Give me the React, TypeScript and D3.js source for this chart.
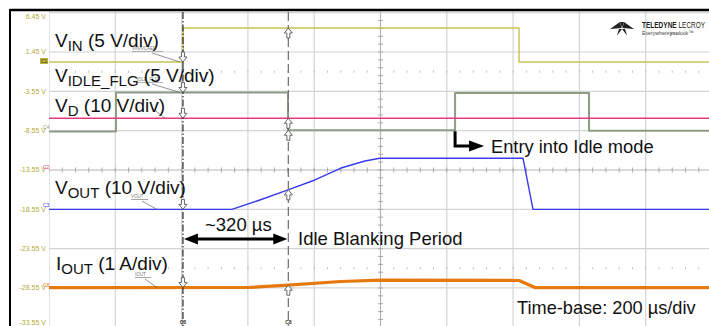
import React from 'react';
import * as d3 from 'd3';

const W = 709;
const H = 326;

// time axis: 200 µs/div, 10 divisions
const timeDomain = [0, 2000];
const gridTimes = d3.range(0, 2001, 200);
// left scale labels, 5 V/div on screen
const yTicks = [6.45, 1.45, -3.55, -8.55, -13.55, -18.55, -23.55, -28.55, -33.55];

// traces (µs, screen volts)
const vinT = [0, 405, 405, 1418, 1418, 2000];
const vinV = [0.18, 0.18, 4.5, 4.5, 0.18, 0.18];
const idleT = [0, 202, 202, 721, 721, 1225, 1225, 1629, 1629, 2000];
const idleV = [-8.65, -8.65, -3.7, -3.7, -8.5, -8.5, -3.75, -3.75, -8.55, -8.55];
const vdT = [0, 2000];
const vdV = [-6.98, -6.98];
const voutT = [0, 552, 636, 721, 802, 881, 953, 998, 1430, 1460, 2000];
const voutV = [-18.56, -18.56, -17.37, -16.09, -14.82, -13.3, -12.41, -12.06, -12.06, -18.56, -18.56];
const ioutT = [0, 600, 721, 880, 1000, 1418, 1466, 2000];
const ioutV = [-28.51, -28.49, -28.2, -27.73, -27.54, -27.6, -28.5, -28.51];

const cursorT = [404, 722];
const idleEntryT = 1225;

const FONT = '"Liberation Sans", Arial, sans-serif';

const traces = [
  { t: vinT, v: vinV, color: '#c9c352', w: 1.4 },
  { t: idleT, v: idleV, color: '#8d9c85', w: 2 },
  { t: vdT, v: vdV, color: '#e63a80', w: 1.6 },
  { t: voutT, v: voutV, color: '#3a3af0', w: 1.4 },
  { t: ioutT, v: ioutV, color: '#e5790f', w: 3.2 },
];

function valueAt(ts: number[], vs: number[], t: number) {
  for (let i = 0; i < ts.length - 1; i++) {
    if (t >= ts[i] && t <= ts[i + 1]) {
      const span = ts[i + 1] - ts[i];
      return span === 0 ? vs[i + 1] : vs[i] + ((vs[i + 1] - vs[i]) * (t - ts[i])) / span;
    }
  }
  return vs[vs.length - 1];
}

function Label({ x, y, main, sub, rest }: { x: number; y: number; main: string; sub: string; rest: string }) {
  return (
    <text x={x} y={y} fontFamily={FONT} fontSize={19} fill="#111">
      <tspan>{main}</tspan>
      <tspan dy={4} fontSize={15}>{sub}</tspan>
      <tspan dy={-4}>{rest}</tspan>
    </text>
  );
}

export default function App() {
  const x = d3.scaleLinear().domain(timeDomain).range([49, 712]);
  const y = d3.scaleLinear().domain([-33.55, 6.45]).range([327.3, 12.67]);
  const line = d3.line<[number, number]>().x(d => x(d[0])).y(d => y(d[1]));

  const centerT = 1000;
  const centerV = -13.55;
  const minorT = d3.range(0, 2001, 40);
  const minorV = d3.range(-33, 7, 1).map(v => v - 0.55);
  const dotRows = [centerV + 12.5, centerV - 12.5];

  const c1 = x(cursorT[0]);
  const c2 = x(cursorT[1]);
  const downArrow = 'M0,0 L-4,-5 L-1.5,-5 L-1.5,-10 L1.5,-10 L1.5,-5 L4,-5 Z';
  const upArrow = 'M0,0 L-4,5 L-1.5,5 L-1.5,10 L1.5,10 L1.5,5 L4,5 Z';

  const ex = x(idleEntryT);

  return (
    <svg width={W} height={H} style={{ position: 'absolute', left: 0, top: 0, background: '#fff' }}>
      <defs>
        <clipPath id="plot">
          <rect x={49} y={11} width={W - 49} height={H - 11} />
        </clipPath>
      </defs>

      {/* grid */}
      <g clipPath="url(#plot)">
        {gridTimes.map(t => (
          <line key={'gx' + t} x1={x(t)} x2={x(t)} y1={11} y2={H} stroke={t === centerT ? '#b4b4b4' : '#d4d4d4'} strokeWidth={1.2} />
        ))}
        {yTicks.map(v => (
          <line key={'gy' + v} x1={49} x2={W} y1={y(v)} y2={y(v)} stroke={v === centerV ? '#b4b4b4' : '#d4d4d4'} strokeWidth={1.2} />
        ))}
        {minorV.map(v => (
          <line key={'mv' + v} x1={x(centerT) - 2.5} x2={x(centerT) + 2.5} y1={y(v)} y2={y(v)} stroke="#aaa" strokeWidth={1} />
        ))}
        {minorT.map(t => (
          <line key={'mt' + t} x1={x(t)} x2={x(t)} y1={y(centerV) - 2.5} y2={y(centerV) + 2.5} stroke="#aaa" strokeWidth={1} />
        ))}
        {dotRows.map(v =>
          minorT.map(t => (
            <rect key={'d' + v + t} x={x(t) - 0.5} y={y(v) - 1} width={1} height={2} fill="#bbb" />
          ))
        )}
      </g>

      {/* y labels */}
      {yTicks.map(v => (
        <text key={'yl' + v} x={46} y={Math.min(Math.max(y(v), 17), 323)} dy="0.35em" textAnchor="end" fontFamily={FONT} fontSize={7} fill="#b3ab3c">
          {v.toFixed(2)} V
        </text>
      ))}
      {/* channel markers */}
      <rect x={40} y={y(0.18) - 4} width={8} height={6} fill="#bdb437" />
      <text x={41} y={y(0.18) + 1} fontFamily={FONT} fontSize={5} fill="#333">C1</text>
      <text x={43} y={y(-8.55) - 2} fontFamily={FONT} fontSize={5} fill="#8d9c85">C4</text>
      <text x={43} y={y(-13.55) - 1} fontFamily={FONT} fontSize={5} fill="#e63a80">C2</text>
      <text x={43} y={y(-18.55) - 2} fontFamily={FONT} fontSize={5} fill="#3a3af0">C3</text>
      <text x={43} y={y(-28.55) - 1} fontFamily={FONT} fontSize={5} fill="#e5790f">C8</text>

      {/* traces */}
      <g clipPath="url(#plot)" fill="none">
        {traces.map((tr, i) => (
          <path key={'tr' + i} d={line(tr.t.map((t, j) => [t, tr.v[j]] as [number, number])) || ''} stroke={tr.color} strokeWidth={tr.w} strokeLinejoin="round" />
        ))}
      </g>

      {/* small trace tags */}
      <g fontFamily={FONT} fontSize={4.5} fill="#777" stroke="none">
        <text x={132} y={50}>VIN/VCAEN</text>
        <line x1={132} x2={163} y1={51.5} y2={51.5} stroke="#888" strokeWidth={0.6} />
        <line x1={152} x2={180} y1={53} y2={y(0.18)} stroke="#666" strokeWidth={0.7} />
        <text x={137} y={81}>IDLE_FLG</text>
        <line x1={137} x2={163} y1={82.5} y2={82.5} stroke="#888" strokeWidth={0.6} />
        <line x1={152} x2={180} y1={84} y2={y(-3.7)} stroke="#666" strokeWidth={0.7} />
        <line x1={152} x2={165} y1={108} y2={y(-6.98)} stroke="#666" strokeWidth={0.7} />
        <text x={131} y={198}>VOUT</text>
        <line x1={131} x2={148} y1={199.5} y2={199.5} stroke="#666" strokeWidth={0.6} />
        <line x1={142} x2={157} y1={201} y2={y(-18.56)} stroke="#666" strokeWidth={0.7} />
        <text x={135} y={276}>IOUT</text>
        <line x1={135} x2={151} y1={277.5} y2={277.5} stroke="#666" strokeWidth={0.6} />
        <line x1={145} x2={157} y1={279} y2={y(-28.51)} stroke="#666" strokeWidth={0.7} />
      </g>

      {/* cursors */}
      <line x1={c1} x2={c1} y1={12} y2={H} stroke="#222" strokeWidth={1.2} strokeDasharray="7,2,1.5,2" />
      <line x1={c2} x2={c2} y1={12} y2={H} stroke="#777" strokeWidth={1.3} strokeDasharray="9,4" />
      {traces.map((tr, i) => (
        <path key={'m1' + i} transform={`translate(${c1},${y(valueAt(tr.t, tr.v, cursorT[0]))})`} d={downArrow} fill="#fff" stroke="#555" strokeWidth={0.9} />
      ))}
      {traces.map((tr, i) => (
        <path key={'m2' + i} transform={`translate(${c2},${y(valueAt(tr.t, tr.v, cursorT[1]))})`} d={upArrow} fill="#fff" stroke="#555" strokeWidth={0.9} />
      ))}
      <text x={c1} y={324} textAnchor="middle" fontFamily={FONT} fontSize={5} fontWeight="bold" fill="#333">C8</text>
      <text x={c2} y={324} textAnchor="middle" fontFamily={FONT} fontSize={5} fontWeight="bold" fill="#333">C8</text>

      {/* labels */}
      <Label x={55} y={47} main="V" sub="IN" rest=" (5 V/div)" />
      <Label x={55} y={82} main="V" sub="IDLE_FLG" rest=" (5 V/div)" />
      <Label x={55} y={112} main="V" sub="D" rest=" (10 V/div)" />
      <Label x={55} y={194} main="V" sub="OUT" rest=" (10 V/div)" />
      <Label x={56} y={270} main="I" sub="OUT" rest=" (1 A/div)" />

      {/* ~320 µs span */}
      <g stroke="#000" fill="#000">
        <line x1={c1 + 12} x2={c2 - 12} y1={239} y2={239} strokeWidth={3} />
        <path d={`M${c1 + 1},239 L${c1 + 15},233.5 L${c1 + 15},244.5 Z`} stroke="none" />
        <path d={`M${c2 - 1},239 L${c2 - 15},233.5 L${c2 - 15},244.5 Z`} stroke="none" />
      </g>
      <text x={205} y={231} fontFamily={FONT} fontSize={18.5} fill="#111">~320 µs</text>
      <text x={298} y={245} fontFamily={FONT} fontSize={18.5} fill="#111">Idle Blanking Period</text>

      {/* entry into idle */}
      <path d={`M${ex},${y(-8.5) + 1} L${ex},146 L${ex + 16},146`} fill="none" stroke="#000" strokeWidth={3} />
      <path d={`M${ex + 29},146 L${ex + 14},140.5 L${ex + 14},151.5 Z`} fill="#000" />
      <text x={491} y={153} fontFamily={FONT} fontSize={18.3} fill="#111">Entry into Idle mode</text>

      <text x={517} y={314} fontFamily={FONT} fontSize={18.2} fill="#111">Time-base: 200 µs/div</text>

      {/* logo */}
      <g fill="#222">
        <path d="M610,29 L620,22 L621.5,28 Z" />
        <path d="M634,29 L624,22 L622.5,28 Z" />
        <path d="M619,29 L622,29 L617,35.5 Z" />
        <path d="M622,29 L625,29 L627,35.5 Z" />
        <path d="M620,22 L624,22 L622,28 Z" />
      </g>
      <text transform="translate(642,28) scale(1,1.35)" fontFamily={FONT} fontSize={6.5} fill="#222">
        <tspan fontWeight="bold">TELEDYNE</tspan> LECROY
      </text>
      <text transform="translate(642,34.5) scale(1,1.2)" fontFamily={FONT} fontSize={5.2} fill="#444">
        Everywhere<tspan fontWeight="bold">you</tspan>look™
      </text>

      {/* frame */}
      <line x1={10} x2={W} y1={10} y2={10} stroke="#000" strokeWidth={2.6} />
      <line x1={10} x2={10} y1={9} y2={H} stroke="#000" strokeWidth={2} />
    </svg>
  );
}
